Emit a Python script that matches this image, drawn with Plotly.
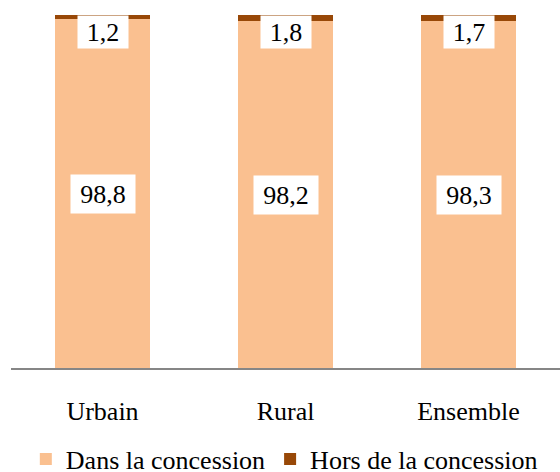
import plotly.graph_objects as go

# Répartition (%) selon le lieu
categories = ["Urbain", "Rural", "Ensemble"]
dans_concession = [98.8, 98.2, 98.3]
hors_concession = [1.2, 1.8, 1.7]
label_dans = ["98,8", "98,2", "98,3"]
label_hors = ["1,2", "1,8", "1,7"]

FONT = "Liberation Serif, Times New Roman, serif"
LIGHT = "#FAC090"
DARK = "#984807"

fig = go.Figure()
fig.add_trace(go.Bar(name="Dans la concession", x=categories, y=dans_concession,
                     marker=dict(color=LIGHT, line_width=0), hoverinfo="skip"))
fig.add_trace(go.Bar(name="Hors de la concession", x=categories, y=hors_concession,
                     marker=dict(color=DARK, line_width=0), hoverinfo="skip"))

# Étiquettes de valeur dans des cadres blancs
for cat, d, h, ld, lh in zip(categories, dans_concession, hors_concession, label_dans, label_hors):
    fig.add_annotation(x=cat, y=d / 2, text=ld, showarrow=False,
                       bgcolor="white", borderpad=4, width=56, height=30,
                       font=dict(family=FONT, size=26, color="black"))
    fig.add_annotation(x=cat, y=d + h, yanchor="top", text=lh, showarrow=False,
                       bgcolor="white", borderpad=1, width=48, height=30,
                       font=dict(family=FONT, size=26, color="black"))

fig.update_layout(
    barmode="stack",
    bargap=0.48,
    width=560, height=472,
    margin=dict(l=11, r=0, t=15, b=104, autoexpand=False),
    paper_bgcolor="white", plot_bgcolor="white",
    font=dict(family=FONT, size=26, color="black"),
    showlegend=True,
    legend=dict(orientation="h", x=0.027, xanchor="left",
                y=-0.258, yanchor="middle", bgcolor="rgba(0,0,0,0)",
                font=dict(family=FONT, size=26), itemwidth=30,
                traceorder="normal"),
    xaxis=dict(showline=True, linecolor="#868686", linewidth=2, automargin=False,
               ticks="outside", ticklen=19, tickcolor="rgba(0,0,0,0)",
               tickfont=dict(family=FONT, size=26), range=[-0.5, 2.5]),
    yaxis=dict(visible=False, range=[0, 100]),
)

fig.write_html("out.html")
